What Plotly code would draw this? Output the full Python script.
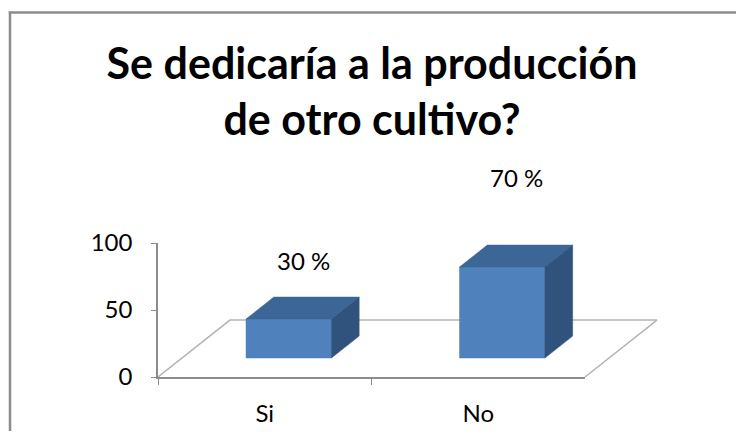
import plotly.graph_objects as go

# ---- data ----
categories = ["Si", "No"]
values = [30, 70]
label_texts = ["30 %", "70 %"]
y_ticks = [0, 50, 100]
title_text = "Se dedicaría a la producción<br>de otro cultivo?"

# ---- style / projection constants ----
FONT = "Lato"
FRONT = "#4F81BD"
TOP = "#3C6695"
SIDE = "#30537E"
FLOOR = "#B4B4B4"
AXIS = "#8C8C8C"

OFF = 8  # page body margin compensation
W, H = 744 - 2 * OFF, 439 - 2 * OFF
ML, MT = 158 - OFF, 243 - OFF
MR = W - (658 - OFF)
MB = H - (377 - OFF)
X_RANGE = [-0.5, 1.842]
Y_RANGE = [0, 100]

floor_dx, floor_dy = 0.337, 42.5      # oblique depth of the floor (data units)
bar_front = 0.333                      # bar front plane, fraction of floor depth
bar_depth = 0.386                      # bar depth, fraction of floor depth
half_w = 0.2
height_scale = 0.97

fig = go.Figure()

n = len(categories)
# floor (parallelogram)
fx = [-0.5, -0.5 + floor_dx, n - 0.5 + floor_dx, n - 0.5]
fy = [0, floor_dy, floor_dy, 0]
fig.add_trace(go.Scatter(x=fx, y=fy, mode="lines", line=dict(color=FLOOR, width=1.5),
                         hoverinfo="skip", showlegend=False))

ox, oy = bar_front * floor_dx, bar_front * floor_dy
dx, dy = bar_depth * floor_dx, bar_depth * floor_dy
for i, v in enumerate(values):
    x0, x1 = i - half_w + ox, i + half_w + ox
    b = oy
    t = oy + v * height_scale
    faces = [
        ([x0, x1, x1, x0, x0], [b, b, t, t, b], FRONT),
        ([x0, x1, x1 + dx, x0 + dx, x0], [t, t, t + dy, t + dy, t], TOP),
        ([x1, x1 + dx, x1 + dx, x1, x1], [b, b + dy, t + dy, t, b], SIDE),
    ]
    for xs, ys, col in faces:
        fig.add_trace(go.Scatter(x=xs, y=ys, mode="lines", fill="toself", fillcolor=col,
                                 line=dict(color=col, width=0.5), hoverinfo="skip",
                                 showlegend=False))

# data labels (y given in paper units derived from the value scale, so they may sit above the range)
for i, v in enumerate(values):
    label_y = 39.8 + 1.56 * v
    fig.add_annotation(x=i + 0.18, xref="x", y=(label_y - Y_RANGE[0]) / (Y_RANGE[1] - Y_RANGE[0]),
                       yref="paper", xanchor="center", yanchor="middle",
                       text=label_texts[i], showarrow=False,
                       font=dict(family=FONT, size=24, color="black"))

# dummy trace on the category axis so it renders
fig.add_trace(go.Scatter(x=categories, y=[None] * n, xaxis="x2", mode="markers",
                         hoverinfo="skip", showlegend=False))

fig.update_layout(
    width=W, height=H,
    margin=dict(l=ML, r=MR, t=MT, b=MB, autoexpand=False),
    paper_bgcolor="white", plot_bgcolor="rgba(0,0,0,0)",
    title=dict(text=title_text, x=(372 - OFF) / W, xref="container", xanchor="center",
               y=1 - 71 / H, yref="container", yanchor="top",
               font=dict(family=FONT, size=43, color="black", weight="bold")),
    xaxis=dict(range=X_RANGE, domain=[0, 1], visible=False, fixedrange=True),
    xaxis2=dict(type="category", categoryorder="array", categoryarray=categories,
                range=[-0.5, n - 0.5], domain=[0, n / (X_RANGE[1] - X_RANGE[0])],
                anchor="y", showline=True, linecolor=AXIS, linewidth=1.5,
                ticks="outside", tickson="boundaries", ticklen=6, tickcolor=AXIS,
                showgrid=False, zeroline=False, ticklabelstandoff=14, automargin=False,
                tickfont=dict(family=FONT, size=24, color="black")),
    yaxis=dict(range=Y_RANGE, tickvals=y_ticks, showline=True, linecolor=AXIS, linewidth=1.5,
               ticks="outside", ticklen=5, tickcolor=AXIS, showgrid=False, zeroline=False,
               ticklabelstandoff=14, automargin=False,
               tickfont=dict(family=FONT, size=24, color="black")),
)

# outer chart frame (only left and top edges visible)
px = lambda p: (p - OFF - ML) / (W - ML - MR)
py = lambda p: (H - MB - (p - OFF)) / (H - MT - MB)
fig.add_shape(type="line", xref="paper", yref="paper", x0=px(10), x1=px(10), y0=py(450), y1=py(11.5),
              line=dict(color=AXIS, width=2.5))
fig.add_shape(type="line", xref="paper", yref="paper", x0=px(8.8), x1=px(760), y0=py(12.5), y1=py(12.5),
              line=dict(color=AXIS, width=2.5))

fig.write_html("out.html")
